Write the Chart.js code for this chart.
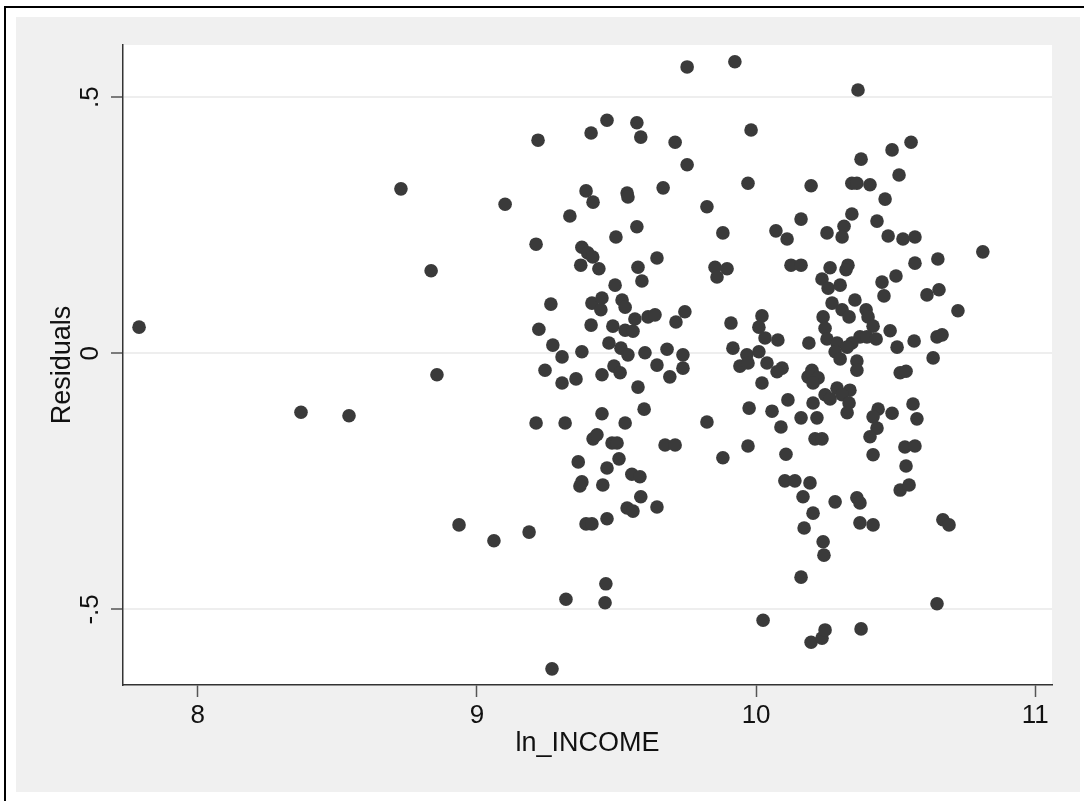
<!DOCTYPE html>
<html>
<head>
<meta charset="utf-8">
<script src="https://cdn.jsdelivr.net/npm/chart.js@4.4.1/dist/chart.umd.min.js"></script>
<style>
  html, body { margin: 0; padding: 0; background: #ffffff; }
  canvas { display: block; }
</style>
</head>
<body>
<canvas id="c" width="1084" height="801"></canvas>
<script>
// ---- data ----
const xTitle = "ln_INCOME";
const yTitle = "Residuals";
const xTicks = [8, 9, 10, 11];
const xTickLabels = ["8", "9", "10", "11"];
const yTicks = [-0.5, 0, 0.5];
const yTickLabels = ["-.5", "0", ".5"];
const xRange = [7.7325, 11.0598];
const yRange = [-0.6475, 0.6018];

const lnIncome = [
  7.790,8.370,8.542,8.728,8.836,8.857,8.936,9.061,9.101,9.187,
  9.466,9.409,9.219,9.391,9.416,9.333,9.498,9.212,9.376,9.397,
  9.415,9.372,9.437,9.495,9.265,9.412,9.448,9.444,9.222,9.409,
  9.487,9.272,9.305,9.376,9.473,9.244,9.491,9.305,9.355,9.448,
  9.212,9.316,9.448,9.416,9.430,9.363,9.466,9.376,9.369,9.451,
  9.391,9.412,9.466,9.462,9.319,9.459,9.269,
  9.753,9.924,9.573,9.587,9.710,9.753,9.982,9.971,9.538,9.541,
  9.667,9.824,9.573,9.881,10.071,10.111,10.161,10.197,9.645,9.577,
  9.591,9.853,9.896,9.860,10.125,10.161,9.520,9.531,9.613,9.638,
  9.745,9.713,9.531,9.559,9.566,9.910,10.021,10.010,10.032,10.078,
  10.189,9.516,9.541,9.602,9.681,9.738,9.917,9.967,10.010,9.645,
  9.738,9.942,9.971,10.039,10.093,10.200,9.513,9.691,9.577,10.021,
  10.075,10.186,10.204,10.222,10.204,9.531,9.599,9.824,9.975,10.057,
  10.114,10.089,10.161,10.204,10.218,9.484,9.502,9.674,9.710,9.971,
  9.881,10.107,10.211,10.236,9.509,9.555,9.584,9.587,9.538,9.559,
  9.645,10.103,10.139,10.193,10.168,10.204,10.172,10.240,10.243,10.161,
  10.025,10.197,10.236,10.247,
  10.365,10.555,10.487,10.376,10.512,10.343,10.361,10.408,10.462,10.343,
  10.315,10.308,10.254,10.433,10.473,10.526,10.569,10.812,10.265,10.329,
  10.322,10.236,10.258,10.301,10.451,10.458,10.501,10.569,10.651,10.612,
  10.655,10.723,10.272,10.354,10.308,10.333,10.240,10.247,10.394,10.401,
  10.419,10.480,10.372,10.397,10.430,10.343,10.254,10.290,10.326,10.505,
  10.566,10.648,10.666,10.634,10.283,10.301,10.361,10.361,10.516,10.537,
  10.290,10.336,10.247,10.265,10.308,10.333,10.326,10.437,10.419,10.487,
  10.433,10.408,10.562,10.576,10.419,10.533,10.569,10.537,10.516,10.548,
  10.283,10.361,10.372,10.372,10.419,10.669,10.691,10.648,10.376
];

const residuals = [
  0.051,-0.115,-0.122,0.321,0.161,-0.042,-0.335,-0.366,0.291,-0.349,
  0.455,0.430,0.416,0.317,0.295,0.268,0.227,0.213,0.207,0.196,
  0.188,0.172,0.165,0.133,0.096,0.098,0.108,0.085,0.047,0.055,
  0.053,0.016,-0.007,0.003,0.020,-0.033,-0.025,-0.058,-0.050,-0.042,
  -0.136,-0.136,-0.118,-0.167,-0.159,-0.212,-0.224,-0.251,-0.259,-0.257,
  -0.333,-0.333,-0.323,-0.450,-0.480,-0.487,-0.616,
  0.559,0.569,0.450,0.422,0.412,0.368,0.436,0.332,0.313,0.305,
  0.323,0.286,0.247,0.235,0.239,0.223,0.262,0.327,0.186,0.168,
  0.141,0.168,0.165,0.149,0.172,0.172,0.104,0.090,0.071,0.075,
  0.081,0.061,0.045,0.043,0.067,0.059,0.073,0.051,0.030,0.026,
  0.020,0.010,-0.003,0.001,0.008,-0.003,0.010,-0.003,0.003,-0.023,
  -0.029,-0.025,-0.019,-0.019,-0.029,-0.033,-0.038,-0.046,-0.066,-0.058,
  -0.036,-0.046,-0.042,-0.048,-0.058,-0.136,-0.109,-0.134,-0.107,-0.113,
  -0.091,-0.144,-0.126,-0.097,-0.126,-0.175,-0.175,-0.179,-0.179,-0.181,
  -0.204,-0.197,-0.167,-0.167,-0.206,-0.236,-0.241,-0.280,-0.302,-0.308,
  -0.300,-0.249,-0.249,-0.253,-0.280,-0.312,-0.341,-0.368,-0.394,-0.437,
  -0.521,-0.564,-0.556,-0.540,
  0.514,0.412,0.397,0.379,0.348,0.332,0.332,0.329,0.301,0.272,
  0.248,0.227,0.235,0.258,0.229,0.223,0.227,0.198,0.167,0.172,
  0.163,0.145,0.127,0.133,0.139,0.112,0.151,0.176,0.184,0.114,
  0.124,0.083,0.098,0.104,0.085,0.071,0.071,0.049,0.085,0.071,
  0.053,0.044,0.032,0.032,0.028,0.020,0.028,0.020,0.012,0.012,
  0.024,0.032,0.036,-0.009,0.003,-0.011,-0.015,-0.033,-0.038,-0.035,
  -0.068,-0.072,-0.081,-0.089,-0.081,-0.097,-0.116,-0.109,-0.124,-0.117,
  -0.146,-0.163,-0.099,-0.128,-0.198,-0.183,-0.181,-0.220,-0.267,-0.257,
  -0.290,-0.282,-0.292,-0.331,-0.335,-0.325,-0.335,-0.489,-0.538
];

// ---- build chart ----
const points = lnIncome.map((x, i) => ({ x: x, y: residuals[i] }));

const FONT = "'Liberation Sans', Arial, sans-serif";

const backgroundPlugin = {
  id: 'stataBackground',
  beforeDraw(chart) {
    const ctx = chart.ctx;
    const a = chart.chartArea;
    ctx.save();
    ctx.fillStyle = '#ffffff';
    ctx.fillRect(0, 0, chart.width, chart.height);
    // outer frame
    ctx.strokeStyle = '#000000';
    ctx.lineWidth = 2;
    ctx.beginPath();
    ctx.moveTo(5, chart.height);
    ctx.lineTo(5, 7);
    ctx.lineTo(chart.width, 7);
    ctx.stroke();
    // graph region
    ctx.fillStyle = '#f0f0f0';
    ctx.fillRect(16, 17, 1064, 775);
    // plot region
    ctx.fillStyle = '#ffffff';
    ctx.fillRect(a.left, a.top, a.right - a.left, a.bottom - a.top);
    ctx.restore();
  }
};

new Chart(document.getElementById('c'), {
  type: 'scatter',
  data: {
    datasets: [{
      data: points,
      pointRadius: 6.8,
      pointHoverRadius: 6.8,
      pointBackgroundColor: '#3a3a3a',
      pointBorderWidth: 0,
      borderWidth: 0
    }]
  },
  plugins: [backgroundPlugin],
  options: {
    responsive: false,
    animation: false,
    devicePixelRatio: 1,
    layout: { padding: { left: 16, right: 32, top: 45, bottom: 9 } },
    plugins: { legend: { display: false }, tooltip: { enabled: false } },
    scales: {
      x: {
        type: 'linear',
        min: xRange[0],
        max: xRange[1],
        afterBuildTicks(scale) { scale.ticks = xTicks.map(v => ({ value: v })); },
        afterFit(scale) { scale.height = 107; },
        border: { display: true, color: '#333333', width: 1.5 },
        grid: { drawOnChartArea: false, drawTicks: true, tickLength: 12, tickColor: '#555555', tickWidth: 1.5 },
        ticks: {
          autoSkip: false, maxRotation: 0, minRotation: 0, padding: 3,
          color: '#111111', font: { family: FONT, size: 26 },
          callback: (v) => xTickLabels[xTicks.indexOf(v)]
        },
        title: {
          display: true, text: xTitle, color: '#111111',
          font: { family: FONT, size: 27 },
          padding: { top: 0, bottom: 32 }
        }
      },
      y: {
        type: 'linear',
        min: yRange[0],
        max: yRange[1],
        afterBuildTicks(scale) { scale.ticks = yTicks.map(v => ({ value: v })); },
        afterFit(scale) { scale.width = 107; },
        border: { display: true, color: '#333333', width: 1.5 },
        grid: { drawOnChartArea: true, color: '#eeeeee', lineWidth: 2, drawTicks: true, tickLength: 12, tickColor: '#555555', tickWidth: 1.5 },
        ticks: {
          autoSkip: false, minRotation: 90, maxRotation: 90, crossAlign: 'center', padding: 5,
          color: '#111111', font: { family: FONT, size: 26 },
          callback: (v) => yTickLabels[yTicks.indexOf(v)]
        },
        title: {
          display: true, text: yTitle, color: '#111111',
          font: { family: FONT, size: 27 },
          padding: { top: 30, bottom: 0 }
        }
      }
    }
  }
});
</script>
</body>
</html>
